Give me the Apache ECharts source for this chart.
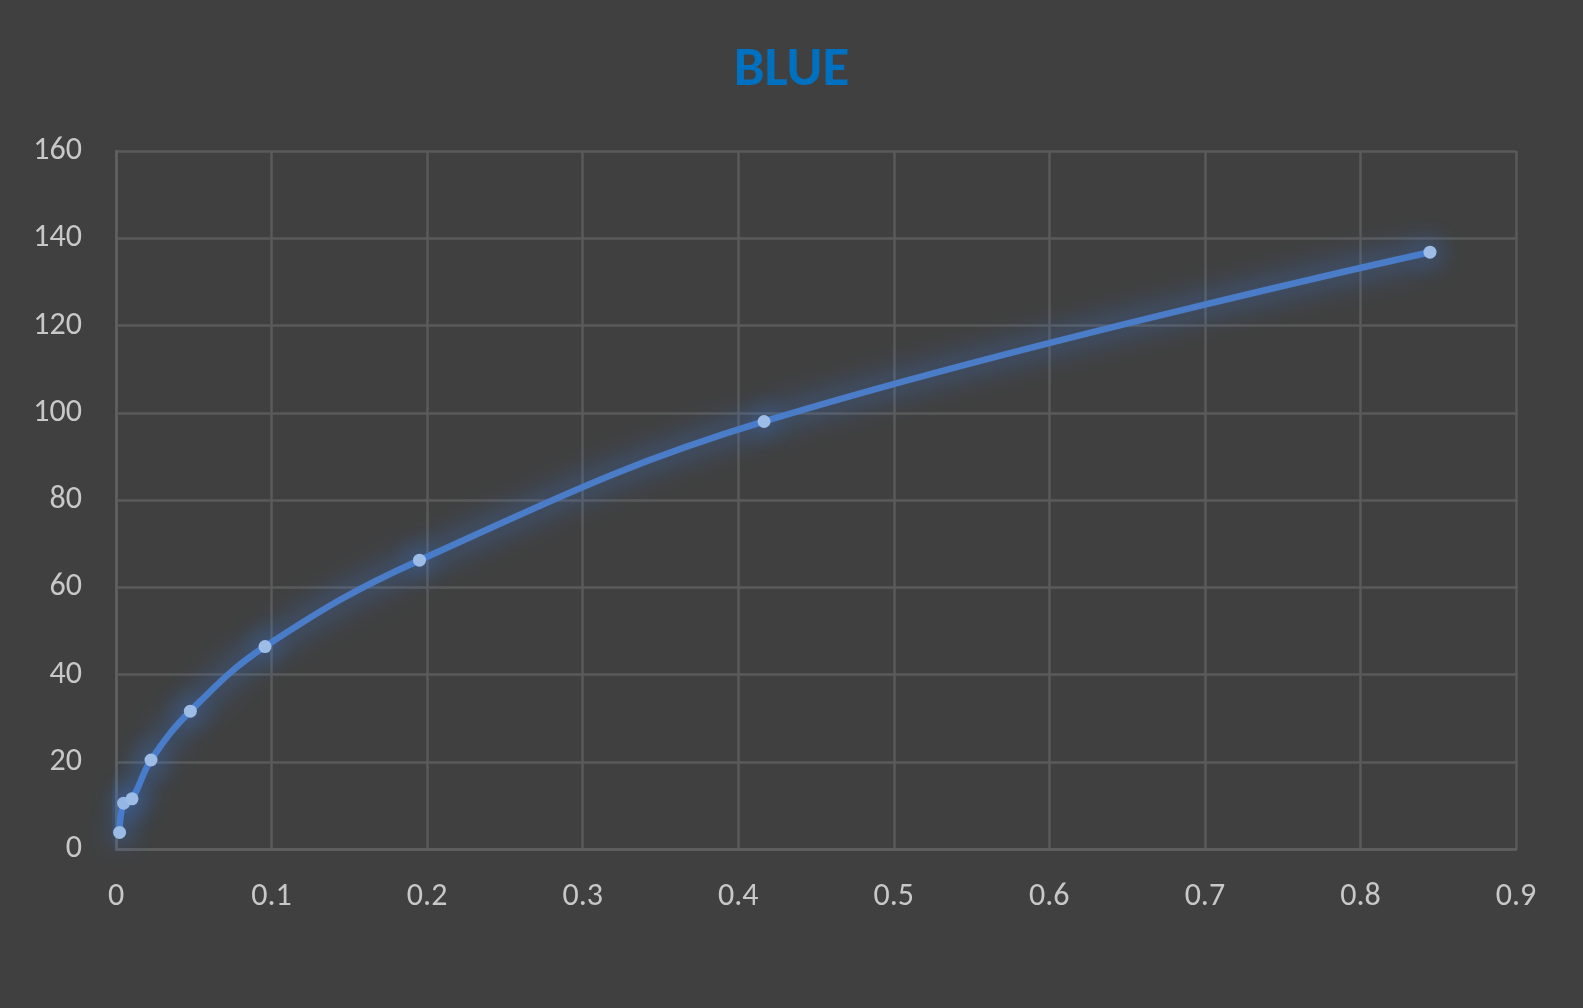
<!DOCTYPE html>
<html><head><meta charset="utf-8">
<script src="https://cdn.jsdelivr.net/npm/echarts@6/dist/echarts.min.js"></script>
<style>html,body{margin:0;padding:0;background:#404040;}#c{width:1583px;height:1008px;}</style>
</head><body><div id="c"></div>
<script>
const titleText = 'BLUE';
const xValues = [0.0023, 0.0049, 0.0103, 0.0225, 0.0478, 0.0958, 0.1951, 0.4166, 0.8447];
const yValues = [3.8, 10.5, 11.5, 20.4, 31.6, 46.4, 66.2, 98.0, 136.8];
const xTicks = {min: 0, max: 0.9, interval: 0.1};
const yTicks = {min: 0, max: 160, interval: 20};

const points = xValues.map((x, i) => [x, yValues[i]]);
const chart = echarts.init(document.getElementById('c'));
const font = 'Carlito, Calibri, "Open Sans", "Liberation Sans", sans-serif';
chart.setOption({
  backgroundColor: '#404040',
  title: {text: titleText, left: 'center', top: 39,
    textStyle: {color: '#0070C0', fontSize: 55, fontWeight: 'bold', fontFamily: font}},
  grid: {left: 116, right: 67, top: 151, bottom: 159},
  xAxis: {type: 'value', min: xTicks.min, max: xTicks.max, interval: xTicks.interval,
    axisLine: {show: true, onZero: false, lineStyle: {color: '#606060', width: 2.5}},
    axisTick: {show: false},
    splitLine: {show: true, lineStyle: {color: '#5a5a5a', width: 2.5}},
    axisLabel: {color: '#c8c8c8', fontSize: 32, fontFamily: font, margin: 32,
      formatter: v => String(Math.round(v * 10) / 10)}},
  yAxis: {type: 'value', min: yTicks.min, max: yTicks.max, interval: yTicks.interval,
    axisLine: {show: true, lineStyle: {color: '#606060', width: 2.5}},
    axisTick: {show: false},
    splitLine: {show: true, lineStyle: {color: '#5a5a5a', width: 2.5}},
    axisLabel: {color: '#c8c8c8', fontSize: 32, fontFamily: font, margin: 34, padding: [5, 0, 0, 0]}},
  series: [{
    type: 'line', data: points, smooth: 0.4,
    symbol: 'circle', symbolSize: 13,
    lineStyle: {color: '#4A7CC7', width: 6.5, shadowColor: 'rgba(60,130,240,1)', shadowBlur: 30},
    itemStyle: {color: '#9DBCE6', borderWidth: 0, shadowColor: 'rgba(60,130,240,1)', shadowBlur: 26},
    emphasis: {disabled: true},
    z: 3
  }],
  animation: false
});
</script></body></html>
